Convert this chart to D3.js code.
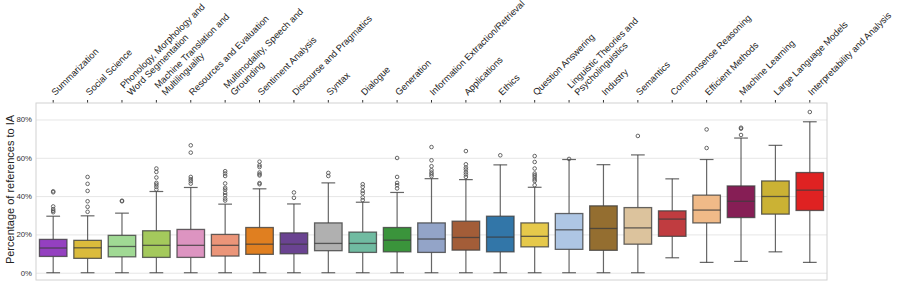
<!DOCTYPE html>
<html>
<head>
<meta charset="utf-8">
<script src="https://cdn.jsdelivr.net/npm/d3@7"></script>
<style>
  body { margin: 0; background: #fff; }
  svg { display: block; font-family: "Liberation Sans", Arial, sans-serif; }
</style>
</head>
<body>
<svg></svg>
<script>
// Categories (line breaks as in the original labels)
var categories = [
  "Summarization", "Social Science", "Phonology, Morphology and\nWord Segmentation",
  "Machine Translation and\nMultilinguality", "Resources and Evaluation",
  "Multimodality, Speech and\nGrounding", "Sentiment Analysis", "Discourse and Pragmatics",
  "Syntax", "Dialogue", "Generation", "Information Extraction/Retrieval", "Applications",
  "Ethics", "Question Answering", "Linguistic Theories and\nPsycholinguistics", "Industry",
  "Semantics", "Commonsense Reasoning", "Efficient Methods", "Machine Learning",
  "Large Language Models", "Interpretability and Analysis"
];

// Box statistics, in percent
var whiskerLow  = [0, 0, 0, 0, 0, 0, 0, 0, 0, 0, 0, 0, 0, 0, 0, 0, 0, 0, 7.8, 5.4, 5.9, 10.9, 5.4];
var q1          = [8.5, 7.5, 8.3, 8.0, 8.0, 8.7, 9.6, 9.9, 11.5, 10.6, 10.9, 10.6, 11.8, 10.9, 13.5, 12.2, 11.7, 14.9, 19.0, 26.0, 28.8, 30.6, 32.5];
var medians     = [12.9, 13.0, 13.7, 14.3, 14.3, 14.3, 14.9, 14.9, 15.3, 15.3, 17.0, 17.6, 18.4, 18.6, 19.0, 22.4, 23.1, 23.4, 28.0, 32.7, 37.3, 39.8, 43.1];
var q3          = [17.4, 16.9, 19.5, 21.9, 22.6, 20.0, 23.6, 20.8, 26.0, 21.2, 23.6, 26.0, 26.9, 29.5, 26.0, 30.9, 34.9, 34.0, 32.3, 40.5, 45.3, 47.9, 52.3];
var whiskerHigh = [29.5, 29.7, 31.1, 42.4, 44.5, 35.8, 43.8, 35.9, 46.9, 36.8, 41.9, 49.1, 48.6, 56.3, 44.6, 59.1, 56.4, 61.5, 49.0, 59.1, 70.3, 66.5, 78.8];
var outliers = [
  [31.6, 32.3, 33.2, 34.6, 42.0, 42.5],
  [31.8, 34.4, 37.3, 42.7, 46.4, 50.0],
  [37.3, 37.6],
  [43.4, 44.8, 46.0, 46.9, 49.7, 52.6, 54.4],
  [46.5, 47.8, 48.8, 50.0, 62.7, 66.5],
  [37.7, 38.7, 40.5, 41.7, 43.4, 44.3, 46.6, 50.5, 51.8, 53.0],
  [46.2, 46.8, 50.8, 51.4, 52.3, 55.2, 56.1, 58.0],
  [39.1, 41.9],
  [50.5, 52.1],
  [37.9, 39.3, 41.4, 42.7, 44.8, 46.2],
  [44.0, 45.7, 46.9, 50.0, 59.9],
  [50.4, 51.4, 52.3, 53.5, 55.6, 58.7, 65.6],
  [50.0, 51.3, 52.4, 53.9, 54.9, 56.6, 63.5],
  [61.3],
  [45.7, 47.9, 48.8, 50.0, 50.9, 51.8, 54.4, 57.8, 60.9],
  [59.4],
  [],
  [71.4],
  [],
  [65.1, 74.8],
  [71.9, 75.2, 75.7],
  [],
  [83.9]
];

var colors = [
  "#9440c0", "#dbbb3c", "#a0d994", "#a4c95c", "#dd94c1", "#eb9579", "#e07f20", "#6a4391",
  "#b0b0b0", "#70bba1", "#3a943b", "#93a4c8", "#a35d38", "#3276a8", "#e6c94b", "#aec6e4",
  "#946e30", "#dcc39d", "#c03c40", "#f0ba88", "#861e55", "#cbb234", "#df2222"
];

var yTicks = [0, 20, 40, 60, 80];

// Variables
var width = 897;
var height = 284;
var plotLeft = 36, plotRight = 827, plotTop = 103, plotBottom = 280;
var lineColor = "rgba(60,60,60,0.78)";

var svg = d3.select("svg")
  .attr("width", width)
  .attr("height", height);

var x = d3.scaleBand()
  .domain(categories)
  .range([plotLeft, plotRight])
  .padding(0);

var y = d3.scaleLinear()
  .domain([-3.8, 88.6])
  .range([plotBottom, plotTop]);

// Grid + y tick labels
var yAxis = svg.append("g")
  .attr("transform", "translate(" + plotLeft + ",0)")
  .call(d3.axisLeft(y)
    .tickValues(yTicks)
    .tickSize(-(plotRight - plotLeft))
    .tickPadding(4)
    .tickFormat(function (d) { return d + "%"; }));
yAxis.select(".domain").remove();
yAxis.selectAll(".tick line").attr("stroke", "#e6e6e6").attr("stroke-width", 1);
yAxis.selectAll(".tick text")
  .attr("fill", "#333")
  .style("font-size", "7.8px")
  .style("font-family", "'Liberation Sans', Arial, sans-serif");

// Top axis ticks
var xAxis = svg.append("g")
  .attr("transform", "translate(0," + plotTop + ")")
  .call(d3.axisTop(x).tickSize(3).tickSizeOuter(0).tickFormat(""));
xAxis.select(".domain").remove();
xAxis.selectAll(".tick line").attr("stroke", "#333");

// Rotated category labels
var lineStep = 10;
var off = lineStep * Math.SQRT1_2;
svg.append("g").selectAll("text")
  .data(categories)
  .enter().append("text")
  .attr("transform", function (d) {
    var n = d.split("\n").length;
    var cx = x(d) + x.bandwidth() / 2 + 2;
    return "translate(" + cx + "," + (96 - (n - 1) * off) + ") rotate(-45)";
  })
  .style("font-size", "9.3px")
  .attr("fill", "#222")
  .each(function (d) {
    var t = d3.select(this);
    d.split("\n").forEach(function (line, i) {
      t.append("tspan").attr("x", 0).attr("y", i * lineStep).text(line);
    });
  });

// Boxes
var boxW = x.bandwidth() * 0.8;
var capW = boxW * 0.5;
var boxes = svg.append("g").selectAll("g")
  .data(categories)
  .enter().append("g")
  .attr("transform", function (d) { return "translate(" + (x(d) + x.bandwidth() / 2) + ",0)"; });

boxes.append("line")
  .attr("x1", 0).attr("x2", 0)
  .attr("y1", function (d, i) { return y(whiskerLow[i]); })
  .attr("y2", function (d, i) { return y(q1[i]); })
  .attr("stroke", lineColor).attr("stroke-width", 1.2);
boxes.append("line")
  .attr("x1", 0).attr("x2", 0)
  .attr("y1", function (d, i) { return y(q3[i]); })
  .attr("y2", function (d, i) { return y(whiskerHigh[i]); })
  .attr("stroke", lineColor).attr("stroke-width", 1.2);
boxes.append("line")
  .attr("x1", -capW / 2).attr("x2", capW / 2)
  .attr("y1", function (d, i) { return y(whiskerLow[i]); })
  .attr("y2", function (d, i) { return y(whiskerLow[i]); })
  .attr("stroke", lineColor).attr("stroke-width", 1.2);
boxes.append("line")
  .attr("x1", -capW / 2).attr("x2", capW / 2)
  .attr("y1", function (d, i) { return y(whiskerHigh[i]); })
  .attr("y2", function (d, i) { return y(whiskerHigh[i]); })
  .attr("stroke", lineColor).attr("stroke-width", 1.2);
boxes.append("rect")
  .attr("x", -boxW / 2)
  .attr("width", boxW)
  .attr("y", function (d, i) { return y(q3[i]); })
  .attr("height", function (d, i) { return y(q1[i]) - y(q3[i]); })
  .attr("fill", function (d, i) { return colors[i]; })
  .attr("stroke", lineColor).attr("stroke-width", 1.3);
boxes.append("line")
  .attr("x1", -boxW / 2).attr("x2", boxW / 2)
  .attr("y1", function (d, i) { return y(medians[i]); })
  .attr("y2", function (d, i) { return y(medians[i]); })
  .attr("stroke", lineColor).attr("stroke-width", 1.3);

boxes.each(function (d, i) {
  d3.select(this).selectAll("circle")
    .data(outliers[i])
    .enter().append("circle")
    .attr("cx", 0)
    .attr("cy", function (v) { return y(v); })
    .attr("r", 1.8)
    .attr("fill", "none")
    .attr("stroke", "#555")
    .attr("stroke-width", 0.9);
});

// Frame
svg.append("rect")
  .attr("x", plotLeft).attr("y", plotTop)
  .attr("width", plotRight - plotLeft).attr("height", plotBottom - plotTop)
  .attr("fill", "none").attr("stroke", "#d2d2d2").attr("stroke-width", 1);

// Y label
svg.append("text")
  .attr("transform", "translate(14," + ((plotTop + plotBottom) / 2 - 2) + ") rotate(-90)")
  .attr("text-anchor", "middle")
  .style("font-size", "11px")
  .attr("fill", "#222")
  .text("Percentage of references to IA");
</script>
</body>
</html>
